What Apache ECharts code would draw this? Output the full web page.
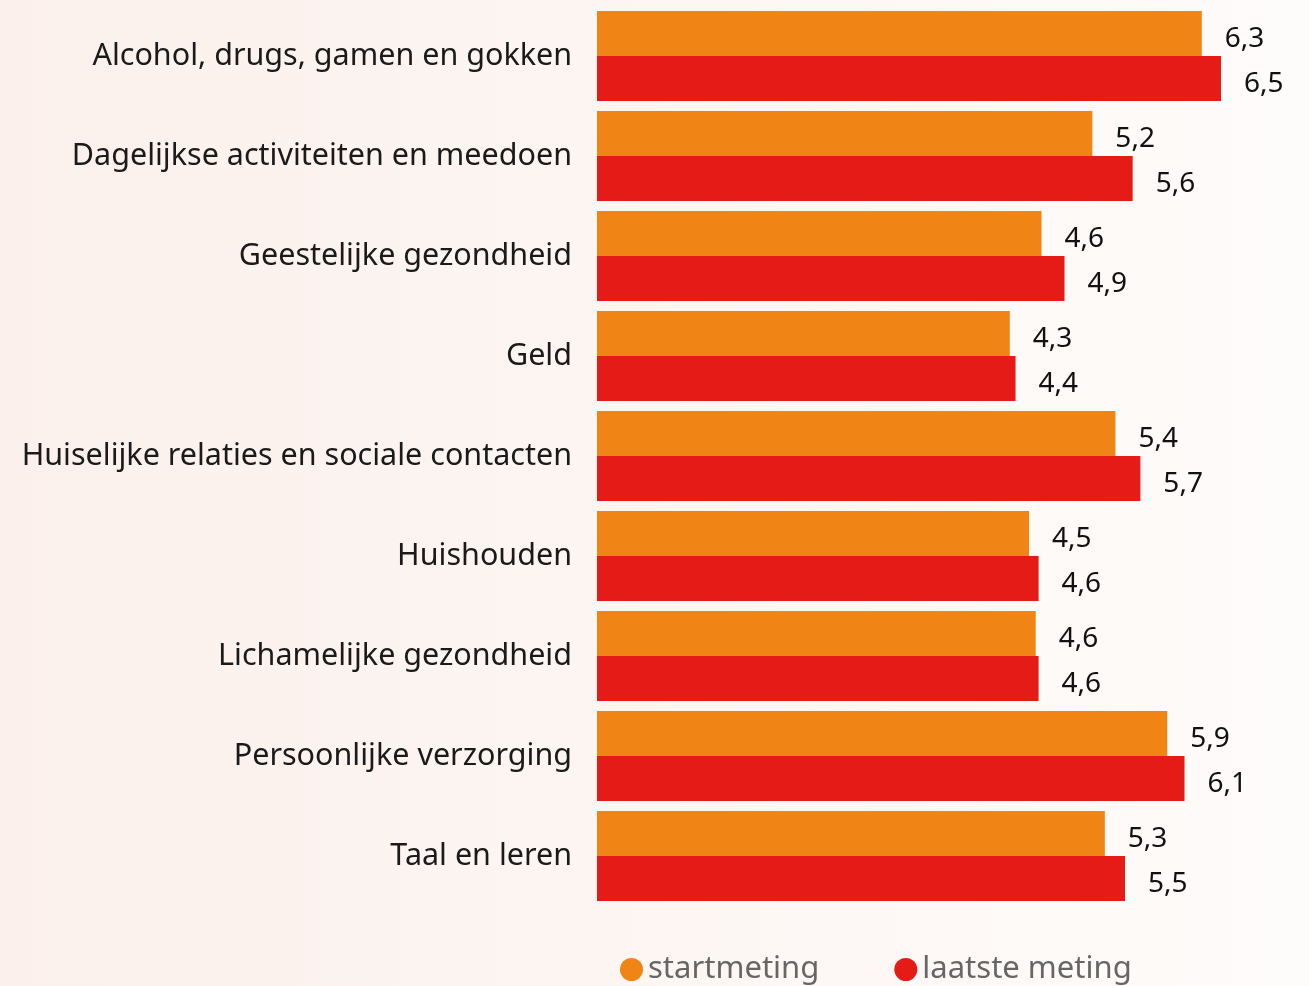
<!DOCTYPE html>
<html>
<head>
<meta charset="utf-8">
<script src="https://cdn.jsdelivr.net/npm/echarts@6/dist/echarts.min.js"></script>
<style>
  html, body { margin: 0; padding: 0; }
  #chart { width: 1309px; height: 986px; }
</style>
</head>
<body>
<div id="chart"></div>
<script>
const categories = [
  "Alcohol, drugs, gamen en gokken",
  "Dagelijkse activiteiten en meedoen",
  "Geestelijke gezondheid",
  "Geld",
  "Huiselijke relaties en sociale contacten",
  "Huishouden",
  "Lichamelijke gezondheid",
  "Persoonlijke verzorging",
  "Taal en leren"
];
// bar lengths; labels show them rounded to one decimal
const startmeting = [6.3, 5.16, 4.63, 4.3, 5.4, 4.5, 4.57, 5.94, 5.29];
const laatsteMeting = [6.5, 5.58, 4.87, 4.36, 5.66, 4.6, 4.6, 6.12, 5.5];

const font = "Noto Sans";
const fmt = (p) => p.value.toFixed(1).replace(".", ",");

const chart = echarts.init(document.getElementById("chart"));

const valueLabel = {
  show: true,
  position: "right",
  distance: 23,
  offset: [0, 6],
  fontSize: 28,
  color: "#111",
  formatter: fmt
};

chart.setOption({
  backgroundColor: new echarts.graphic.LinearGradient(0, 0, 1, 0, [
    { offset: 0, color: "#fbf0eb" },
    { offset: 1, color: "#fefcfb" }
  ]),
  textStyle: { fontFamily: font },
  animation: false,
  grid: { left: 597, top: 6, width: 672, height: 900 },
  legend: {
    data: ["startmeting", "laatste meting"],
    bottom: -4,
    left: 615,
    icon: "circle",
    itemWidth: 23,
    itemHeight: 23,
    itemGap: 75,
    textStyle: { fontSize: 31, color: "#666", fontFamily: font }
  },
  xAxis: {
    type: "value",
    min: 0,
    max: 7,
    show: false
  },
  yAxis: {
    type: "category",
    data: categories,
    inverse: true,
    axisLine: { show: false },
    axisTick: { show: false },
    axisLabel: {
      fontSize: 30.5,
      color: "#1a1a1a",
      margin: 25,
      fontFamily: font,
      padding: [8, 0, 0, 0]
    }
  },
  series: [
    {
      name: "startmeting",
      type: "bar",
      data: startmeting,
      barGap: "0%",
      barCategoryGap: "10%",
      itemStyle: { color: "#f08515" },
      label: valueLabel
    },
    {
      name: "laatste meting",
      type: "bar",
      data: laatsteMeting,
      barGap: "0%",
      barCategoryGap: "10%",
      itemStyle: { color: "#e41b17" },
      label: valueLabel
    }
  ]
});
</script>
</body>
</html>
